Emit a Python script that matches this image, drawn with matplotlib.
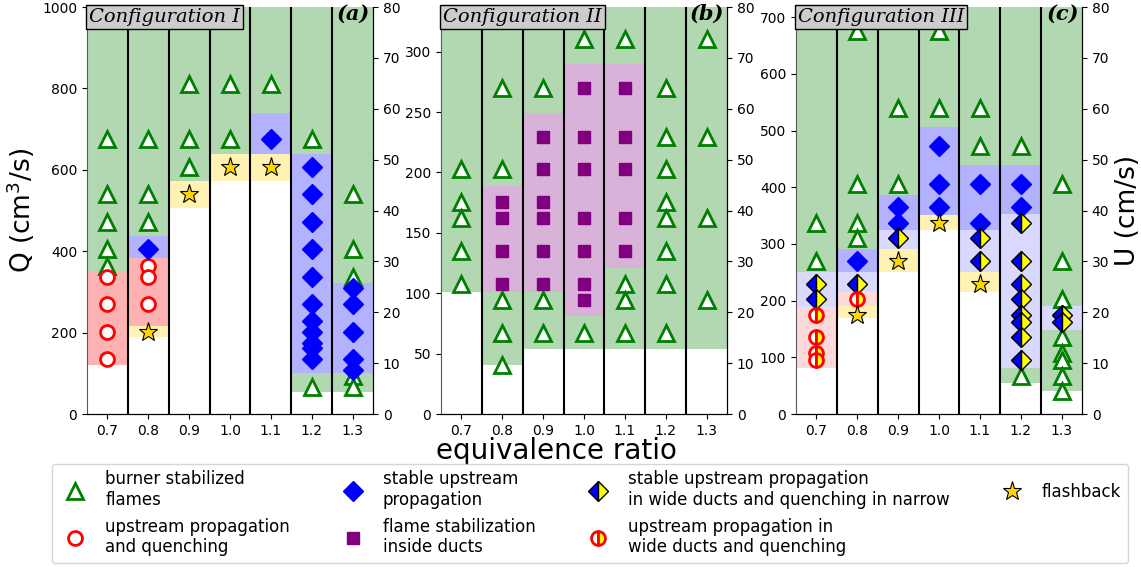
import matplotlib.pyplot as plt
from matplotlib.lines import Line2D

# equivalence ratio columns
phi = [0.7, 0.8, 0.9, 1.0, 1.1, 1.2, 1.3]
phi_labels = ['0.7', '0.8', '0.9', '1.0', '1.1', '1.2', '1.3']

titles = ['Configuration I', 'Configuration II', 'Configuration III']
tags = ['(a)', '(b)', '(c)']
q_top = [1000, 337, 718]
q_ticks = [range(0, 1001, 200), range(0, 301, 50), range(0, 701, 100)]
u_top = 80

# background regions: (phi, Q from, Q to, regime)
bands_a = [
    (0.7, 120, 350, 'quench'), (0.7, 350, 1000, 'burner'),
    (0.8, 190, 216, 'flash'), (0.8, 216, 384, 'quench'), (0.8, 384, 438, 'upstream'), (0.8, 438, 1000, 'burner'),
    (0.9, 505, 573, 'flash'), (0.9, 573, 1000, 'burner'),
    (1.0, 573, 639, 'flash'), (1.0, 639, 1000, 'burner'),
    (1.1, 573, 639, 'flash'), (1.1, 639, 739, 'upstream'), (1.1, 739, 1000, 'burner'),
    (1.2, 55, 100, 'burner'), (1.2, 100, 639, 'upstream'), (1.2, 639, 1000, 'burner'),
    (1.3, 55, 100, 'burner'), (1.3, 100, 323, 'upstream'), (1.3, 323, 1000, 'burner'),
]
bands_b = [
    (0.7, 101, 337, 'burner'),
    (0.8, 40.5, 101, 'burner'), (0.8, 101, 189, 'duct'), (0.8, 189, 337, 'burner'),
    (0.9, 54, 101, 'burner'), (0.9, 101, 249, 'duct'), (0.9, 249, 337, 'burner'),
    (1.0, 54, 81, 'burner'), (1.0, 81, 290, 'duct'), (1.0, 290, 337, 'burner'),
    (1.1, 54, 121, 'burner'), (1.1, 121, 290, 'duct'), (1.1, 290, 337, 'burner'),
    (1.2, 54, 337, 'burner'),
    (1.3, 54, 337, 'burner'),
]
bands_c = [
    (0.7, 82, 189, 'mixedq'), (0.7, 189, 250, 'mixed'), (0.7, 250, 718, 'burner'),
    (0.8, 169, 190, 'flash'), (0.8, 190, 216, 'mixedq'), (0.8, 216, 250, 'mixed'),
    (0.8, 250, 291, 'upstream'), (0.8, 291, 718, 'burner'),
    (0.9, 250, 291, 'flash'), (0.9, 291, 325, 'mixed'), (0.9, 325, 386, 'upstream'), (0.9, 386, 718, 'burner'),
    (1.0, 324, 351, 'flash'), (1.0, 351, 507, 'upstream'), (1.0, 507, 718, 'burner'),
    (1.1, 216, 250, 'flash'), (1.1, 250, 325, 'mixed'), (1.1, 325, 439, 'upstream'), (1.1, 439, 718, 'burner'),
    (1.2, 54, 82, 'burner'), (1.2, 82, 352, 'mixed'), (1.2, 352, 439, 'upstream'), (1.2, 439, 718, 'burner'),
    (1.3, 41, 149, 'burner'), (1.3, 149, 190, 'mixed'), (1.3, 190, 718, 'burner'),
]

# measured points, Q in cm3/s per phi
points_a = {
    'burner': {0.7: [675, 540, 472.5, 405, 364.5], 0.8: [675, 540, 472.5], 0.9: [810, 675, 607.5],
               1.0: [810, 675], 1.1: [810], 1.2: [675, 67.5], 1.3: [540, 405, 337.5, 94.5, 67.5]},
    'quench': {0.7: [337.5, 270, 202.5, 135], 0.8: [364.5, 337.5, 270]},
    'upstream': {0.8: [405], 1.1: [675],
                 1.2: [607.5, 540, 472.5, 405, 337.5, 270, 229.5, 202.5, 175.5, 162, 135],
                 1.3: [310.5, 270, 202.5, 135, 108]},
    'flash': {0.8: [202.5], 0.9: [540], 1.0: [607.5], 1.1: [607.5]},
}
points_b = {
    'burner': {0.7: [202.5, 175.5, 162, 135, 108], 0.8: [270, 202.5, 94.5, 67.5, 40.5],
               0.9: [270, 94.5, 67.5], 1.0: [310.5, 67.5], 1.1: [310.5, 108, 94.5, 67.5],
               1.2: [270, 229.5, 202.5, 175.5, 162, 135, 108, 67.5], 1.3: [310.5, 229.5, 162, 94.5]},
    'duct': {0.8: [175.5, 162, 135, 108], 0.9: [229.5, 202.5, 175.5, 162, 135, 108],
             1.0: [270, 229.5, 202.5, 162, 135, 108, 94.5], 1.1: [270, 229.5, 202.5, 162, 135]},
}
points_c = {
    'burner': {0.7: [337.5, 270], 0.8: [675, 405, 337.5, 310.5], 0.9: [540, 405], 1.0: [675, 540],
               1.1: [540, 472.5], 1.2: [472.5, 67.5], 1.3: [405, 270, 202.5, 135, 108, 94.5, 67.5, 40.5]},
    'upstream': {0.8: [270], 0.9: [364.5, 337.5], 1.0: [472.5, 405, 364.5], 1.1: [405, 337.5], 1.2: [405, 364.5]},
    'mixed': {0.7: [229.5, 202.5], 0.8: [229.5], 0.9: [310.5], 1.1: [310.5, 270],
              1.2: [337.5, 270, 229.5, 202.5, 175.5, 162, 135, 94.5], 1.3: [175.5, 162]},
    'mixedq': {0.7: [175.5, 135, 108, 94.5], 0.8: [202.5]},
    'flash': {0.8: [175.5], 0.9: [270], 1.0: [337.5], 1.1: [229.5]},
}

band_colors = {
    'burner': ('green', 0.3), 'quench': ('red', 0.3), 'upstream': ('blue', 0.3),
    'flash': ('gold', 0.3), 'duct': ('purple', 0.3), 'mixed': ('blue', 0.15), 'mixedq': ('red', 0.15),
}
styles = {
    'burner': dict(marker='^', ms=11, mfc='white', mec='green', mew=2),
    'upstream': dict(marker='D', ms=10, mfc='blue', mec='blue', mew=1),
    'mixed': dict(marker='D', ms=10, mfc='blue', mfcalt='yellow', mec='black', mew=1, fillstyle='left'),
    'flash': dict(marker='*', ms=14, mfc='gold', mec='black', mew=0.8),
    'quench': dict(marker='o', ms=10, mfc='white', mec='red', mew=2),
    'duct': dict(marker='s', ms=9, mfc='purple', mec='purple', mew=1),
    'mixedq': dict(marker='o', ms=10, mfc='white', mfcalt='yellow', mec='red', mew=2, fillstyle='left'),
}
legend_order = ['burner', 'quench', 'upstream', 'duct', 'mixed', 'mixedq', 'flash']
legend_text = {
    'burner': 'burner stabilized\nflames',
    'quench': 'upstream propagation\nand quenching',
    'upstream': 'stable upstream\npropagation',
    'duct': 'flame stabilization\ninside ducts',
    'mixed': 'stable upstream propagation\nin wide ducts and quenching in narrow',
    'mixedq': 'upstream propagation in\nwide ducts and quenching',
    'flash': 'flashback',
}

fig = plt.figure(figsize=(11.41, 5.67), dpi=100)
lefts = [0.0762, 0.3865, 0.6976]

for i, (bands, points) in enumerate([(bands_a, points_a), (bands_b, points_b), (bands_c, points_c)]):
    ax = fig.add_axes([lefts[i], 0.2698, 0.2507, 0.7178])
    for p, lo, hi, kind in bands:
        c, a = band_colors[kind]
        ax.bar(p, hi - lo, bottom=lo, width=0.1, color=c, alpha=a, linewidth=0, zorder=0)
    for b in [0.75, 0.85, 0.95, 1.05, 1.15, 1.25]:
        ax.axvline(b, color='black', lw=1.5, zorder=1)
    for kind in ['burner', 'quench', 'duct', 'upstream', 'mixed', 'mixedq', 'flash']:
        if kind not in points:
            continue
        for p, qs in points[kind].items():
            ax.plot([p] * len(qs), qs, ls='none', zorder=3, **styles[kind])
    ax.set_xlim(0.65, 1.35)
    ax.set_ylim(0, q_top[i])
    ax.set_xticks(phi)
    ax.set_xticklabels(phi_labels)
    ax.set_yticks(list(q_ticks[i]))
    ax.tick_params(labelsize=10)
    ax.spines['top'].set_visible(False)
    ax.spines['left'].set_color('0.35')
    ax.text(0.007, 0.975, titles[i], transform=ax.transAxes, ha='left', va='center',
            family='DejaVu Serif', style='italic', fontsize=14, zorder=5,
            bbox=dict(boxstyle='square,pad=0.15', fc='0.8', ec='black', lw=1))
    ax.text(0.99, 0.983, tags[i], transform=ax.transAxes, ha='right', va='center',
            family='DejaVu Serif', style='italic', weight='bold', fontsize=15, zorder=5)
    ax2 = ax.twinx()
    ax2.set_ylim(0, u_top)
    ax2.set_yticks(range(0, 81, 10))
    ax2.tick_params(labelsize=10)
    ax2.spines['top'].set_visible(False)
    ax2.spines['left'].set_visible(False)
    if i == 0:
        ax.set_ylabel('Q (cm$^3$/s)', fontsize=19)
    if i == 2:
        ax2.set_ylabel('U (cm/s)', fontsize=19)

fig.text(0.488, 0.205, 'equivalence ratio', ha='center', va='center', fontsize=20)

handles = [Line2D([], [], ls='none', **styles[k]) for k in legend_order]
labels = [legend_text[k] for k in legend_order]
fig.legend(handles, labels, loc='lower left', bbox_to_anchor=(0.0456, 0.007, 0.943, 0.176),
           mode='expand', ncol=4, fontsize=12, borderaxespad=0, handletextpad=0.8)

fig.savefig('out.png', dpi=100)
